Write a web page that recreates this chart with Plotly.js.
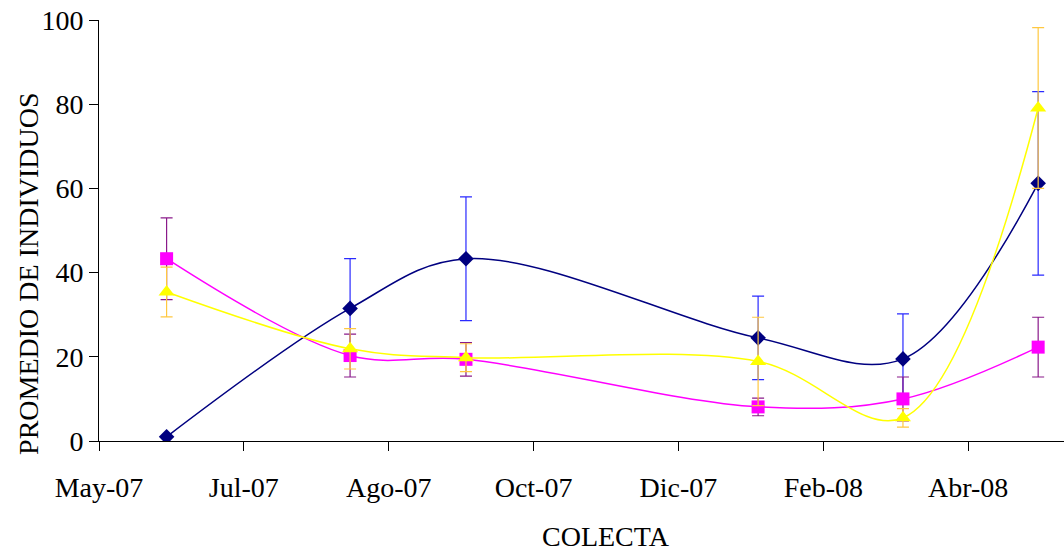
<!DOCTYPE html>
<html>
<head>
<meta charset="utf-8">
<script src="https://cdn.plot.ly/plotly-3.0.1.min.js"></script>
<style>
  html, body { margin: 0; padding: 0; overflow: hidden; background: #fff; }
  #chart { width: 1120px; height: 552px; }
</style>
</head>
<body>
<div id="chart"></div>
<script>
// Fechas de colecta
const colectas = ['2007-05-30', '2007-08-14', '2007-10-01', '2008-01-30', '2008-03-30', '2008-05-25'];

// Promedios por serie y su error
const serieAzul = [1.0, 31.5, 43.3, 24.5, 19.5, 61.2];
const errAzul = [0, 11.8, 14.7, 9.9, 10.7, 21.8];

const serieMagenta = [43.3, 20.3, 19.4, 8.1, 10.0, 22.3];
const errMagenta = [9.7, 5.1, 4.0, 2.1, 5.2, 7.1];

const serieAmarilla = [35.4, 21.9, 19.8, 18.9, 5.5, 79.1];
const errAmarilla = [5.9, 4.8, 3.3, 10.5, 2.2, 19.1];

// Marcas del eje de fechas (cada 60 días)
const marcasFecha = ['2007-05-02', '2007-07-01', '2007-08-30', '2007-10-29', '2007-12-28', '2008-02-26', '2008-04-26'];
const etiquetasFecha = ['May-07', 'Jul-07', 'Ago-07', 'Oct-07', 'Dic-07', 'Feb-08', 'Abr-08'];
const marcasY = [0, 20, 40, 60, 80, 100];

const fuente = 'Liberation Serif, Times New Roman, serif';

function serie(y, err, lineColor, markerColor, symbol, size, errColor) {
  return {
    x: colectas,
    y: y,
    type: 'scatter',
    mode: 'lines+markers',
    line: { color: lineColor, width: 1.5, shape: 'spline', smoothing: 1 },
    marker: { color: markerColor, symbol: symbol, size: size, line: { width: 0 } },
    error_y: { type: 'data', array: err, symmetric: true, color: errColor, thickness: 1.2, width: 6 },
    showlegend: false,
    hoverinfo: 'x+y'
  };
}

const trazas = [
  serie(serieAzul, errAzul, '#000080', '#000080', 'diamond', 12, '#2a2aff'),
  serie(serieMagenta, errMagenta, '#ff00ff', '#ff00ff', 'square', 13, '#8a1a8a'),
  serie(serieAmarilla, errAmarilla, '#ffff00', '#ffff00', 'triangle-up', 14, '#ffc840')
];

const layout = {
  width: 1120,
  height: 552,
  margin: { l: 99, r: 7, t: 20, b: 111 },
  paper_bgcolor: '#ffffff',
  plot_bgcolor: '#ffffff',
  font: { family: fuente, size: 28, color: '#000' },
  xaxis: {
    type: 'date',
    range: ['2007-05-02', '2008-06-25'],
    tickmode: 'array',
    tickvals: marcasFecha,
    ticktext: etiquetasFecha,
    ticks: 'outside',
    ticklen: 9,
    tickcolor: '#000',
    tickwidth: 1,
    ticklabelstandoff: 12,
    showline: true,
    linecolor: '#000',
    linewidth: 1,
    showgrid: false,
    zeroline: false,
    tickfont: { family: fuente, size: 28, color: '#000' }
  },
  yaxis: {
    range: [0, 100],
    tickmode: 'array',
    tickvals: marcasY,
    ticks: 'outside',
    ticklen: 9,
    tickcolor: '#000',
    tickwidth: 1,
    showline: true,
    linecolor: '#000',
    linewidth: 1,
    showgrid: false,
    zeroline: false,
    tickfont: { family: fuente, size: 28, color: '#000' }
  },
  annotations: [
    {
      text: 'COLECTA',
      xref: 'paper', yref: 'paper',
      x: 0.5, y: -0.228,
      xanchor: 'center', yanchor: 'middle',
      showarrow: false,
      font: { family: fuente, size: 28, color: '#000' }
    },
    {
      text: 'PROMEDIO DE INDIVIDUOS',
      xref: 'paper', yref: 'paper',
      x: -0.069, y: 0.397,
      xanchor: 'center', yanchor: 'middle',
      textangle: -90,
      showarrow: false,
      font: { family: fuente, size: 28, color: '#000' }
    }
  ]
};

Plotly.newPlot('chart', trazas, layout, { displayModeBar: false, staticPlot: true });
</script>
</body>
</html>
